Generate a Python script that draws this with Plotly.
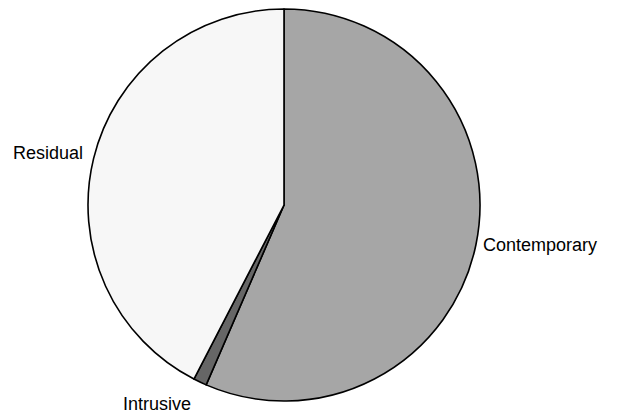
import plotly.graph_objects as go

# Share of each component (percent)
labels = ["Contemporary", "Intrusive", "Residual"]
values = [56.5, 1.1, 42.4]
colors = ["#A6A6A6", "#666666", "#F7F7F7"]

W, H = 617, 414

fig = go.Figure(
    go.Pie(
        labels=labels,
        values=values,
        sort=False,
        direction="clockwise",
        rotation=0,
        marker=dict(colors=colors, line=dict(color="#000000", width=1.6)),
        textinfo="none",
        hoverinfo="label+percent",
        domain=dict(x=[88 / W, 480 / W], y=[1 - 401 / H, 1 - 9 / H]),
    )
)

# Category labels placed beside their slices
label_pos = {
    "Residual": (12, 153),
    "Contemporary": (482, 245),
    "Intrusive": (122, 404),
}
for name in labels:
    px, py = label_pos[name]
    fig.add_annotation(
        x=px / W, y=1 - py / H, xref="paper", yref="paper",
        text=name, showarrow=False, xanchor="left", yanchor="middle",
        xshift=-1,
        font=dict(family="Liberation Sans, Arial, sans-serif", size=18, color="#000000"),
    )

fig.update_layout(
    width=W, height=H,
    margin=dict(l=0, r=0, t=0, b=0),
    showlegend=False,
    paper_bgcolor="white",
    plot_bgcolor="white",
)

fig.write_html("out.html")
